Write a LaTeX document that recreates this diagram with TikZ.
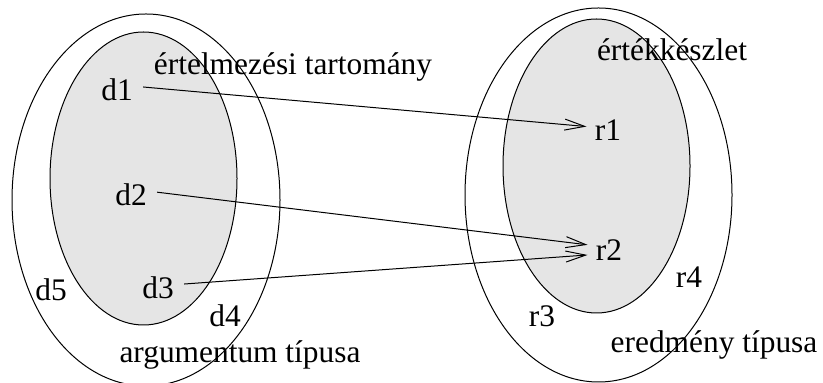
\documentclass[tikz,border=0pt]{standalone}
\usepackage{fontspec}
\setmainfont{Liberation Serif}
\usetikzlibrary{arrows.meta}
\begin{document}
\begin{tikzpicture}[
  x=0.5pt, y=-0.5pt,
  lbl/.style={font=\fontsize{15.7}{18}\selectfont, inner sep=2pt},
  set/.style={draw, line width=0.5pt},
  map/.style={line width=0.5pt, -{Straight Barb[length=10pt, width=5.5pt, line width=0.5pt]}, shorten <=3pt, shorten >=2pt}
]
\useasboundingbox (0,0) rectangle (823,383);

\fill[black!10] (143.5,178.5) ellipse [x radius=93.5, y radius=146.5];
\fill[black!10] (596.5,166) ellipse [x radius=93.5, y radius=147];
\draw[set] (146,200) ellipse [x radius=134, y radius=186];
\draw[set] (143.5,178.5) ellipse [x radius=93.5, y radius=146.5];
\draw[set] (598.5,195) ellipse [x radius=133.5, y radius=187];
\draw[set] (596.5,166) ellipse [x radius=93.5, y radius=147];

\node[lbl] (dom) at (293,67) {értelmezési tartomány};
\node[lbl] (arg) at (240,355) {argumentum típusa};
\node[lbl] (rng) at (672,50) {értékkészlet};
\node[lbl] (res) at (714,345) {eredmény típusa};

\node[lbl] (d1) at (117,90) {d1};
\node[lbl] (d2) at (131,195) {d2};
\node[lbl] (d3) at (158,288) {d3};
\node[lbl] (d4) at (225,316) {d4};
\node[lbl] (d5) at (51,290) {d5};
\node[lbl] (r1) at (608,130) {r1};
\node[lbl] (r2) at (609,250) {r2};
\node[lbl] (r3) at (542,316) {r3};
\node[lbl] (r4) at (689,277) {r4};

\draw[map] (d1.10) -- (r1.170);
\draw[map] (d2.10) -- (r2.165);
\draw[map] (d3.10) -- (r2.195);
\end{tikzpicture}
\end{document}
